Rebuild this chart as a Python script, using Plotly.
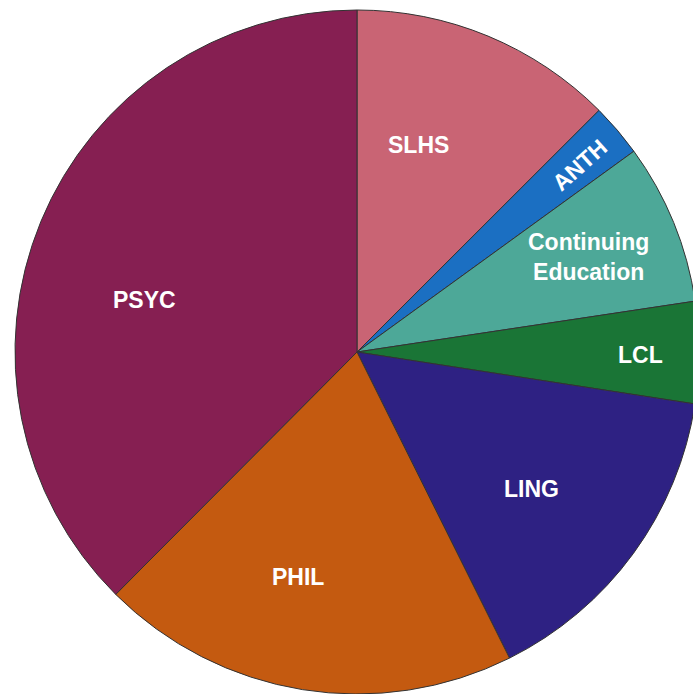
import math
import plotly.graph_objects as go

labels = ["SLHS", "ANTH", "Continuing<br>Education", "LCL", "LING", "PHIL", "PSYC"]
values = [12.5, 2.5, 7.6, 4.8, 15.2, 19.8, 37.5]
colors = ["#C96474", "#1B6FC2", "#4DA898", "#1A7536", "#2E2183", "#C45A10", "#861F52"]

# label placement (radial fraction of radius, angular offset from slice middle in degrees, text angle)
label_r = [0.63, 0.85, 0.73, 0.83, 0.65, 0.68, 0.64]
label_dtheta = [-6, 0.5, 0, 0.6, 2, 5.5, -8.6]
label_angle = [0, -42, 0, 0, 0, 0, 0]

fig = go.Figure(go.Pie(
    labels=labels,
    values=values,
    sort=False,
    direction="clockwise",
    rotation=0,
    marker=dict(colors=colors, line=dict(color="#333333", width=1)),
    textinfo="none",
    showlegend=False,
    hoverinfo="label+percent",
))

total = sum(values)
cum = 0.0
font = dict(family="Liberation Sans, Arial, sans-serif", size=23, color="white", weight="bold")
for lab, v, rf, dt, ta in zip(labels, values, label_r, label_dtheta, label_angle):
    mid = (cum + v / 2) / total * 360 + dt
    cum += v
    th = math.radians(mid)
    fig.add_annotation(
        x=0.5 + 0.5 * rf * math.sin(th),
        y=0.5 + 0.5 * rf * math.cos(th),
        xref="paper", yref="paper",
        text=lab, showarrow=False,
        xanchor="center", yanchor="middle",
        textangle=ta, font=font,
    )

fig.update_layout(
    width=699, height=694,
    margin=dict(l=15, r=0, t=10, b=0),
    paper_bgcolor="white",
    plot_bgcolor="white",
)

fig.write_html(
    "out.html",
    config={"displayModeBar": False},
    post_script=(
        "document.body.style.margin='0';"
        "document.body.style.overflow='hidden';"
        "document.documentElement.style.overflow='hidden';"
    ),
)
